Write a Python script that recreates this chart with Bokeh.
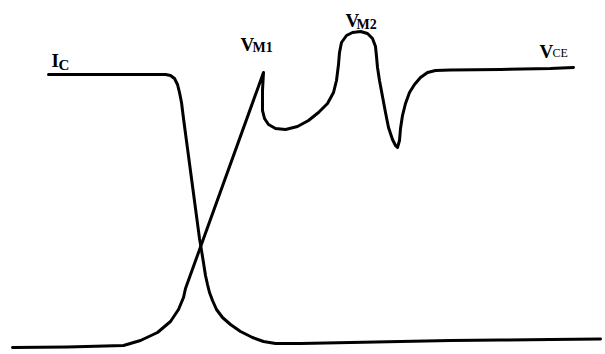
from bokeh.plotting import figure
from bokeh.models import Range1d
from bokeh.core.properties import value
from bokeh.embed import file_html
from bokeh.resources import INLINE

# Collector current I_C (time, amplitude)
ic_t = [40, 92, 142, 157, 162, 166, 169, 171, 173, 175, 179, 183, 187, 191, 194, 197, 199,
        201, 204, 208, 214, 222, 232, 244, 255, 267, 292, 342, 392, 442, 492, 542, 592]
ic_v = [269, 269, 269, 269, 268, 265, 259, 251, 241, 225, 195, 165, 135, 105, 87, 68, 59,
        51, 43, 34, 26, 19, 12, 6, 2, 0, 0, 1, 2, 3, 3.5, 4, 4.5]

# Collector-emitter voltage V_CE (time, amplitude)
vce_t = [4, 59, 115, 132, 149, 162, 170, 175, 177, 255, 254, 254, 256, 260, 267, 277, 289,
         300, 310, 319, 325, 328, 330, 331, 333, 338, 344, 352, 359, 364, 367, 368, 369,
         371, 374, 377, 380, 384, 387, 389, 391, 392, 394, 397, 401, 406, 412, 419, 427,
         442, 492, 542, 565]
vce_v = [-4, -3.5, -2, 3, 11, 22, 34, 46, 55, 271, 253, 233, 225, 219, 215, 214, 217,
         223, 231, 240, 251, 263, 279, 291, 301, 308, 311, 312, 310, 305, 297, 287, 276,
         263, 247, 231, 216, 204, 198, 196, 203, 215, 228, 240, 251, 259, 266, 271, 273,
         273.5, 274, 275, 276]

main_labels = ["I", "V", "V", "V"]
sub_labels = ["C", "M1", "M2", "CE"]

p = figure(width=605, height=354, output_backend="svg", toolbar_location=None,
           x_range=Range1d(-8, 597), y_range=Range1d(-11, 343), min_border=0)
p.axis.visible = False
p.grid.visible = False
p.outline_line_color = None
p.background_fill_color = "white"
p.border_fill_color = "white"

p.line(ic_t, ic_v, line_color="black", line_width=3, line_join="round", line_cap="round")
p.line(vce_t, vce_v, line_color="black", line_width=3, line_join="round", line_cap="round")

p.text(x=[43, 232, 337, 531], y=[283, 299, 323, 292], text=main_labels,
       text_font=value("Liberation Serif"), text_font_size="19px", text_font_style="bold",
       text_color="black", text_align="left", text_baseline="alphabetic")
p.text(x=[50, 244, 348, 544], y=[279, 296, 319, 291], text=sub_labels[:3] + [""],
       text_font=value("Liberation Serif"), text_font_size=["15px", "14px", "14px", "12px"],
       text_font_style="bold",
       text_color="black", text_align="left", text_baseline="alphabetic")
p.text(x=[544], y=[291], text=sub_labels[3:],
       text_font=value("Liberation Serif"), text_font_size="12px",
       text_color="black", text_align="left", text_baseline="alphabetic")

open("out.html", "w").write(file_html(p, INLINE))
